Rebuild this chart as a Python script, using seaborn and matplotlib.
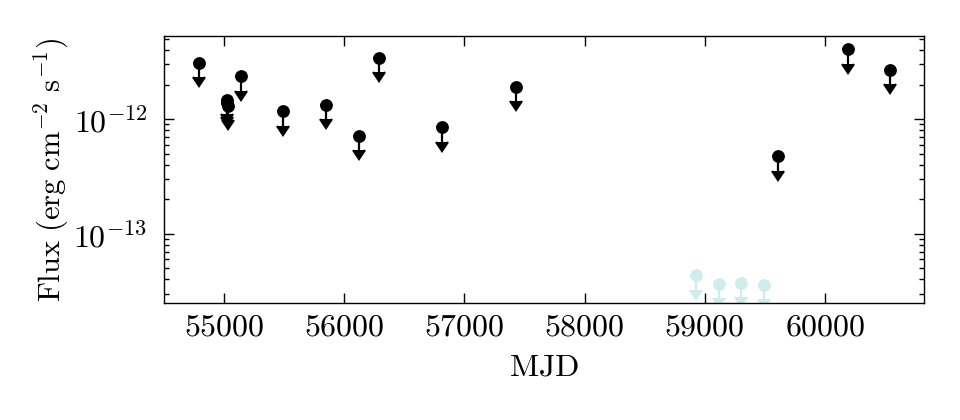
import numpy as np
import pandas as pd
import matplotlib
matplotlib.use("Agg")
import matplotlib.pyplot as plt
import matplotlib.ticker as mticker
import seaborn as sns

# data: upper limits
mjd_black = [54792, 55020, 55025, 55030, 55142, 55489, 55850, 56122, 56286, 56814, 57433, 59614, 60197, 60542]
flux_black = [3.11e-12, 1.47e-12, 1.38e-12, 1.30e-12, 2.37e-12, 1.17e-12, 1.33e-12, 7.2e-13, 3.41e-12,
              8.5e-13, 1.91e-12, 4.73e-13, 4.06e-12, 2.70e-12]
mjd_cyan = [58931, 59117, 59300, 59492]
flux_cyan = [4.34e-14, 3.67e-14, 3.72e-14, 3.60e-14]
x_ticks = [55000, 56000, 57000, 58000, 59000, 60000]
y_ticks = [1e-13, 1e-12]

sns.set_style("ticks")
plt.rcParams["font.family"] = "serif"
plt.rcParams["font.serif"] = ["cmr10", "DejaVu Serif"]
plt.rcParams["mathtext.fontset"] = "cm"
plt.rcParams["axes.formatter.use_mathtext"] = True
plt.rcParams["axes.unicode_minus"] = False
for k in ["text.color", "axes.labelcolor", "xtick.color", "ytick.color", "axes.edgecolor"]:
    plt.rcParams[k] = "black"

df_b = pd.DataFrame({"MJD": mjd_black, "Flux": flux_black})
df_c = pd.DataFrame({"MJD": mjd_cyan, "Flux": flux_cyan})

fig = plt.figure(figsize=(9.6, 4.2), dpi=100)
ax = fig.add_axes([0.171, 0.279, 0.792, 0.635])

cyan = "#cfeced"
for df, col in [(df_b, "black"), (df_c, cyan)]:
    ax.errorbar(df["MJD"], df["Flux"], yerr=0.25 * df["Flux"], uplims=True,
                fmt="none", ecolor=col, color=col, elinewidth=1.6, capsize=4.3, capthick=1.6, zorder=2)
    sns.scatterplot(data=df, x="MJD", y="Flux", color=col, s=85, edgecolor=col,
                    linewidth=0, ax=ax, zorder=3)

ax.set_yscale("log")
ax.set_xlim(54500, 60830)
ax.set_ylim(2.5e-14, 5.3e-12)
ax.set_xticks(x_ticks)
ax.set_yticks(y_ticks)
ax.yaxis.set_minor_locator(mticker.LogLocator(base=10, subs=np.arange(2, 10), numticks=20))
ax.yaxis.set_minor_formatter(mticker.NullFormatter())
ax.set_xlabel(r"$\mathrm{MJD}$", fontsize=23, labelpad=9)
ax.set_ylabel(r"$\mathrm{Flux\ (erg\ cm^{-2}\ s^{-1})}$", fontsize=22, labelpad=2)
ax.tick_params(which="both", direction="in", top=True, right=True, labelsize=23)
ax.tick_params(which="major", length=7, width=1)
ax.tick_params(axis="x", which="major", pad=8)
ax.tick_params(axis="y", which="major", pad=12)
ax.tick_params(which="minor", length=3.5, width=1)
for s in ax.spines.values():
    s.set_linewidth(1)

fig.savefig("out.png", dpi=100)
